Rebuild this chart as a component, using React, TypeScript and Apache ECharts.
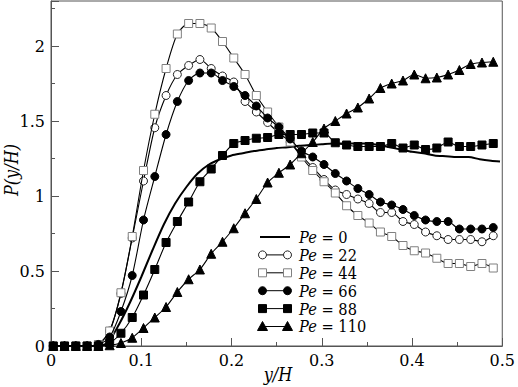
import React, { useEffect, useRef } from "react";
import * as echarts from "echarts";

const xs = [0.0025, 0.015, 0.0275, 0.04, 0.0525, 0.065, 0.0775, 0.09, 0.1025, 0.115, 0.1275, 0.14, 0.1525, 0.165, 0.1775, 0.19, 0.2025, 0.215, 0.2275, 0.24, 0.2525, 0.265, 0.2775, 0.29, 0.3025, 0.315, 0.3275, 0.34, 0.3525, 0.365, 0.3775, 0.39, 0.4025, 0.415, 0.4275, 0.44, 0.4525, 0.465, 0.4775, 0.49];
const pe0X = [0, 0.0125, 0.025, 0.0375, 0.05, 0.0625, 0.075, 0.0875, 0.1, 0.1125, 0.125, 0.1375, 0.15, 0.1625, 0.175, 0.1875, 0.2, 0.2125, 0.225, 0.2375, 0.25, 0.2625, 0.275, 0.2875, 0.3, 0.3125, 0.325, 0.3375, 0.35, 0.3625, 0.375, 0.3875, 0.4, 0.4125, 0.425, 0.4375, 0.45, 0.4625, 0.475, 0.4875, 0.4975];
const pe0 = [0, 0, 0, 0, 0, 0.02, 0.14, 0.29, 0.46, 0.64, 0.81, 0.95, 1.06, 1.15, 1.21, 1.245, 1.27, 1.285, 1.30, 1.31, 1.32, 1.325, 1.335, 1.34, 1.345, 1.35, 1.35, 1.35, 1.35, 1.34, 1.325, 1.31, 1.295, 1.285, 1.27, 1.265, 1.26, 1.26, 1.245, 1.235, 1.23];
const pe22 = [0, 0, 0, 0, 0.01, 0.10, 0.35, 0.72, 1.10, 1.455, 1.67, 1.81, 1.87, 1.91, 1.85, 1.80, 1.76, 1.63, 1.56, 1.49, 1.42, 1.36, 1.27, 1.19, 1.11, 1.04, 1.01, 0.98, 0.95, 0.89, 0.89, 0.83, 0.81, 0.76, 0.735, 0.71, 0.71, 0.71, 0.695, 0.735];
const pe44 = [0, 0, 0, 0, 0.01, 0.10, 0.355, 0.73, 1.17, 1.545, 1.85, 2.08, 2.15, 2.15, 2.12, 2.03, 1.92, 1.81, 1.67, 1.56, 1.46, 1.36, 1.26, 1.17, 1.095, 1.02, 0.935, 0.87, 0.82, 0.76, 0.73, 0.67, 0.635, 0.62, 0.585, 0.55, 0.55, 0.53, 0.55, 0.52];
const pe66 = [0, 0, 0, 0, 0.01, 0.06, 0.23, 0.47, 0.84, 1.13, 1.41, 1.63, 1.77, 1.82, 1.82, 1.77, 1.73, 1.67, 1.60, 1.52, 1.46, 1.38, 1.30, 1.26, 1.21, 1.15, 1.10, 1.05, 1.01, 0.96, 0.94, 0.91, 0.87, 0.84, 0.83, 0.83, 0.78, 0.78, 0.78, 0.79];
const pe88 = [0, 0, 0, 0, 0, 0.02, 0.085, 0.19, 0.34, 0.51, 0.69, 0.83, 0.96, 1.095, 1.18, 1.27, 1.35, 1.37, 1.385, 1.39, 1.41, 1.41, 1.41, 1.42, 1.42, 1.355, 1.34, 1.33, 1.33, 1.33, 1.35, 1.32, 1.34, 1.31, 1.32, 1.36, 1.33, 1.33, 1.34, 1.35];
const pe110 = [0, 0, 0, 0, 0, 0.005, 0.02, 0.055, 0.12, 0.19, 0.26, 0.36, 0.445, 0.51, 0.615, 0.695, 0.785, 0.885, 0.98, 1.09, 1.155, 1.21, 1.285, 1.36, 1.45, 1.50, 1.55, 1.59, 1.65, 1.72, 1.75, 1.77, 1.81, 1.785, 1.79, 1.81, 1.84, 1.88, 1.89, 1.895];

const legendLabels = ["0", "22", "44", "66", "88", "110"];
const xTicks = ["0", "0.1", "0.2", "0.3", "0.4", "0.5"];
const yTicks = ["0", "0.5", "1", "1.5", "2"];

const FONT = "DejaVu Serif";

function pairs(x: number[], y: number[]) {
  return y.map((v, i) => [x[i], v]);
}

type Mk = { kind: string; fill: string; stroke: string };
const markers: Mk[] = [
  { kind: "none", fill: "#000", stroke: "#000" },
  { kind: "circle", fill: "#fff", stroke: "#222" },
  { kind: "rect", fill: "#fff", stroke: "#808080" },
  { kind: "circle", fill: "#000", stroke: "#000" },
  { kind: "rect", fill: "#000", stroke: "#000" },
  { kind: "triangle", fill: "#000", stroke: "#000" },
];

function markerGraphic(m: Mk, cx: number, cy: number): any {
  if (m.kind === "circle") {
    return { type: "circle", shape: { cx, cy, r: 4 }, style: { fill: m.fill, stroke: m.stroke, lineWidth: 1 }, z: 101 };
  }
  if (m.kind === "rect") {
    return { type: "rect", shape: { x: cx - 4, y: cy - 4, width: 8, height: 8 }, style: { fill: m.fill, stroke: m.stroke, lineWidth: 1 }, z: 101 };
  }
  if (m.kind === "triangle") {
    return { type: "polygon", shape: { points: [[cx, cy - 5], [cx - 5, cy + 4], [cx + 5, cy + 4]] }, style: { fill: m.fill, stroke: m.stroke, lineWidth: 1 }, z: 101 };
  }
  return null;
}

export default function App() {
  const ref = useRef<HTMLDivElement>(null);
  useEffect(() => {
    if (!ref.current) return;
    const chart = echarts.init(ref.current, undefined, { renderer: "svg" });

    const seriesData = [pairs(pe0X, pe0), pairs(xs, pe22), pairs(xs, pe44), pairs(xs, pe66), pairs(xs, pe88), pairs(xs, pe110)];
    const symbolMap: Record<string, string> = { circle: "circle", rect: "rect", triangle: "triangle", none: "none" };
    const sizeMap: Record<string, number> = { circle: 8, rect: 8, triangle: 9, none: 0 };

    const series = seriesData.map((d, k) => {
      const m = markers[k];
      return {
        type: "line",
        name: "Pe = " + legendLabels[k],
        data: d,
        smooth: 0.25,
        symbol: symbolMap[m.kind],
        symbolSize: sizeMap[m.kind],
        showSymbol: m.kind !== "none",
        lineStyle: { color: "#000", width: k === 0 ? 2 : 1.1 },
        itemStyle: { color: m.fill, borderColor: m.stroke, borderWidth: 1, opacity: 1 },
        z: 2 + k,
      };
    });

    const graphic: any[] = [];
    const rowY0 = 237;
    const rowStep = 17.9;
    legendLabels.forEach((lab, k) => {
      const y = rowY0 + rowStep * k;
      graphic.push({ type: "line", shape: { x1: 260, y1: y, x2: 290, y2: y }, style: { stroke: "#000", lineWidth: k === 0 ? 2 : 1 }, z: 100 });
      const m1 = markerGraphic(markers[k], 262.5, y);
      const m2 = markerGraphic(markers[k], 287.5, y);
      if (m1) graphic.push(m1);
      if (m2) graphic.push(m2);
      graphic.push({
        type: "text",
        x: 299,
        y: y - 8,
        scaleX: 0.86,
        z: 100,
        style: {
          text: "{i|Pe} = " + lab,
          rich: {
            i: { fontStyle: "italic", fontSize: 17, fontFamily: FONT, fill: "#000", lineHeight: 16 },
          },
          fontSize: 17,
          lineHeight: 16,
          fontFamily: FONT,
          fill: "#000",
          verticalAlign: "top",
          align: "left",
        },
      });
    });
    graphic.push({
      type: "text",
      x: 278,
      y: 375,
      scaleX: 0.85,
      style: { text: "y/H", fontSize: 19, fontStyle: "italic", fontFamily: FONT, fill: "#000", align: "center", verticalAlign: "middle" },
    });
    graphic.push({
      type: "text",
      x: 12,
      y: 170,
      rotation: Math.PI / 2,
      scaleX: 0.85,
      style: { text: "P(y/H)", fontSize: 19, fontStyle: "italic", fontFamily: FONT, fill: "#000", align: "center", verticalAlign: "middle" },
    });

    const axisCommon = {
      type: "value",
      axisLine: { show: true, lineStyle: { color: "#555", width: 1 } },
      axisTick: { show: true, inside: true, length: 8, lineStyle: { color: "#555" } },
      minorTick: { show: true, splitNumber: 2, length: 4, lineStyle: { color: "#555" } },
      splitLine: { show: false },
      minorSplitLine: { show: false },
    };

    chart.setOption({
      animation: false,
      grid: { left: 51, right: 14, top: 1, bottom: 41, show: true, borderColor: "#555", borderWidth: 1, backgroundColor: "#fff", containLabel: false },
      xAxis: {
        ...axisCommon,
        min: 0,
        max: 0.5,
        interval: 0.1,
        axisLabel: {
          fontSize: 16,
          fontFamily: FONT,
          color: "#000",
          margin: 6,
          formatter: (v: number) => {
            const idx = Math.round(v * 10);
            return Math.abs(v * 10 - idx) < 1e-6 && xTicks[idx] !== undefined ? xTicks[idx] : "";
          },
        },
      },
      yAxis: {
        ...axisCommon,
        min: 0,
        max: 2.3,
        interval: 0.5,
        axisLabel: {
          fontSize: 16,
          fontFamily: FONT,
          color: "#000",
          margin: 6,
          formatter: (v: number) => {
            const idx = Math.round(v * 2);
            return Math.abs(v * 2 - idx) < 1e-6 && yTicks[idx] !== undefined ? yTicks[idx] : "";
          },
        },
      },
      series,
      graphic,
    });
    return () => chart.dispose();
  }, []);
  return <div ref={ref} style={{ position: "fixed", left: 0, top: 0, width: 518, height: 387, background: "#fff" }} />;
}
